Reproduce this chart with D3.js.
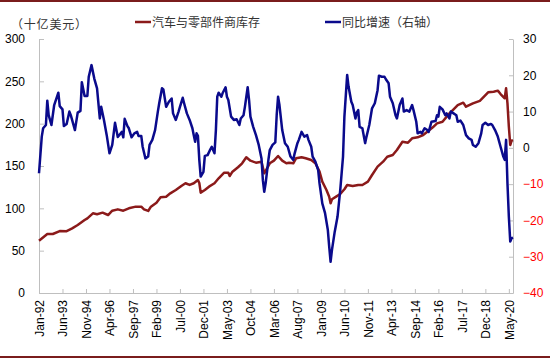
<!DOCTYPE html>
<html><head><meta charset="utf-8">
<script src="https://cdn.jsdelivr.net/npm/d3@7"></script>
<style>
html,body{margin:0;padding:0;background:#fff;}
svg{display:block;}
text{text-spacing-trim: space-all;}
</style></head>
<body>
<script>
// x-axis tick labels (every 17 months starting Jan-92)
const tickLabels = ["Jan-92","Jun-93","Nov-94","Apr-96","Sep-97","Feb-99","Jul-00","Dec-01","May-03","Oct-04","Mar-06","Aug-07","Jan-09","Jun-10","Nov-11","Apr-13","Sep-14","Feb-16","Jul-17","Dec-18","May-20"];
// months since Jan-1992
const redIdx = [0,6,10,15,20,24,28,33,35,39,42,46,50,53,57,61,65,70,74,76,79,81,85,88,92,95,99,103,106,109,112,115,116,117,120,123,127,130,134,137,138,140,144,147,150,153,157,161,163,165,167,170,173,176,179,181,184,186,190,193,197,200,203,205,208,210,211,212,215,218,221,223,227,231,234,238,241,245,249,252,256,259,263,267,270,274,278,281,285,288,292,297,300,303,307,309,314,319,322,325,329,332,334,337,338,339,340,341,342,343];
// 汽车与零部件商库存 (十亿美元)
const redVal = [61.8,69.7,69.7,73.2,73,76.4,80.3,86.2,88.2,94.1,93,94.9,92.1,97.2,98.8,97.2,100,102,102,98.8,96.9,102,106.7,113,113.8,117.7,121.7,126.4,129.6,127.6,129.6,133.5,130,118.5,121.7,125.6,129.6,135.5,142.1,142,138.2,143.3,148.5,153.2,160.3,156.3,153.9,155.1,141.4,147.3,153.2,156.3,161.8,156.3,153.2,153.9,153.2,159.1,160.3,159.1,157.1,153.2,143.3,131.5,121.7,113.8,105.9,110.7,113.8,117,122.5,127.6,126.4,127.6,127.6,131.5,139.4,149.2,155.1,161,163,168.9,178.7,177.5,182.7,183.9,186.6,190.5,195.7,200.4,202.3,212.2,217,222,224.8,220,224,227,231.9,237,237.8,239,235,230,241.8,224,196.4,174.8,179.9,180.7];
// months since Jan-1992
const blueIdx = [0,2,3,5,6,7,9,11,14,15,17,18,20,22,23,26,28,30,31,33,35,36,38,40,42,44,45,47,49,51,53,55,57,60,61,62,64,65,67,69,71,72,74,75,77,79,80,82,84,86,87,89,90,92,94,96,97,99,101,102,104,105,107,109,111,112,113,114,115,116,117,119,120,122,124,125,127,128,129,130,132,133,135,136,137,139,141,143,145,146,148,149,151,152,153,155,157,159,161,162,163,164,166,167,169,171,172,173,174,176,178,180,182,184,185,187,188,190,192,194,195,197,198,200,202,203,205,207,209,210,211,212,214,216,218,220,221,223,224,226,227,229,230,231,232,234,236,237,239,241,243,245,246,248,250,251,253,254,256,258,259,261,263,264,266,268,270,271,273,274,276,277,279,281,282,284,287,288,289,290,292,294,295,297,298,300,302,303,305,307,309,311,313,314,316,318,320,321,323,325,327,328,330,332,334,336,337,338,339,340,341,342,343];
// 同比增速 (%), right axis
const blueVal = [-7.0,3.1,5.4,6.3,13.0,9.0,6.3,11.8,15.2,11.5,10.6,6.0,6.6,10.0,9.0,4.9,9.7,10.2,18.1,14.3,14.3,19.6,22.8,19.1,16.4,8.1,11.3,7.7,3.5,-1.5,0.8,6.9,3.0,4.4,2.9,8.0,6.0,5.4,2.9,4.0,4.4,3.3,3.3,0.3,-2.9,-2.4,0.8,2.2,4.9,10.0,12.3,16.4,16.1,11.3,12.7,13.6,9.5,7.7,10.0,11.3,13.8,12.3,9.5,7.7,5.4,3.5,1.7,4.0,3.3,-3.3,-7.9,-6.6,-2.2,-2.0,-0.4,0.3,-1.5,4.9,14.1,15.2,14.1,15.2,16.7,14.1,13.2,8.6,7.7,7.9,6.3,8.1,9.0,11.3,16.7,13.2,8.6,5.8,3.5,0.8,-2.9,-8.9,-12.1,-9.8,-3.3,-0.6,0.8,1.5,9.0,14.1,11.8,4.9,1.3,0.3,-2.4,-3.3,-1.5,1.3,2.2,4.4,3.1,3.5,2.2,0.3,-2.4,-3.8,-6.1,-9.8,-15.3,-18.0,-22.6,-27.2,-31.4,-28.1,-23.1,-19.0,-11.6,-2.4,8.6,20.1,16.9,12.7,11.8,8.1,9.8,10.4,5.8,5.4,1.3,3.1,6.3,10.9,12.3,15.9,19.9,19.6,19.6,18.9,17.8,14.1,12.3,9.0,8.1,11.8,13.6,10.0,10.4,10.0,11.8,10.4,7.2,4.0,4.4,4.0,5.4,4.9,4.4,7.2,7.4,9.0,8.6,11.3,10.6,9.0,9.5,8.1,10.0,9.5,9.0,7.2,7.5,6.3,3.5,2.6,2.2,0.8,0.3,1.3,4.0,6.3,6.9,6.3,6.6,6.3,4.9,3.1,0.3,-2.4,-3.3,2.2,-9.8,-19.0,-25.8,-24.9,-24.7];
const leftTicks = [0,50,100,150,200,250,300];
const rightTicks = [-40,-30,-20,-10,0,10,20,30];
const seriesNames = ["汽车与零部件商库存","同比增速（右轴）"];
const unitLabel = "（十亿美元）";

const W = 550, H = 358;
const RED = "#8B1A1A", BLUE = "#0A0A8C", AXIS = "#BFBFBF";
const svg = d3.select("body").append("svg").attr("width", W).attr("height", H);

const x = d3.scaleLinear().domain([0, 343]).range([39, 513]);
const yL = d3.scaleLinear().domain([0, 300]).range([293, 39]);
const yR = d3.scaleLinear().domain([-40, 30]).range([293, 39]);

// frame lines
svg.append("line").attr("x1",0).attr("x2",W).attr("y1",1).attr("y2",1).attr("stroke","#7A1C1C").attr("stroke-width",2);
svg.append("line").attr("x1",0).attr("x2",W).attr("y1",357).attr("y2",357).attr("stroke","#7A1C1C").attr("stroke-width",2);

const fontAxis = "'Liberation Sans', Arial, sans-serif";
const fontCJK = "'Noto Sans CJK SC', sans-serif";

// left axis
const gL = svg.append("g").attr("transform","translate(39,0)")
  .call(d3.axisLeft(yL).tickValues(leftTicks).tickSizeInner(-5).tickSizeOuter(0).tickPadding(14));
// right axis
const gR = svg.append("g").attr("transform","translate(513,0)")
  .call(d3.axisRight(yR).tickValues(rightTicks).tickSizeInner(-4).tickSizeOuter(0).tickPadding(10));
// bottom axis
const xTickVals = tickLabels.map((d,i)=>i*17);
const gB = svg.append("g").attr("transform","translate(0,293)")
  .call(d3.axisBottom(x).tickValues(xTickVals).tickFormat((d,i)=>tickLabels[i]).tickSizeInner(-4).tickSizeOuter(0));
gB.selectAll("text").attr("transform","rotate(-90)").attr("x",-7).attr("y",0).attr("dy","0.35em").attr("text-anchor","end");

[gL,gR,gB].forEach(g=>{
  g.select(".domain").attr("stroke",AXIS);
  g.selectAll(".tick line").attr("stroke",AXIS);
  g.selectAll("text").attr("font-family",fontAxis).attr("font-size",12).attr("fill","#000");
});
gR.selectAll(".tick text").attr("fill", d => d < 0 ? "#FF0000" : "#000");

// lines
const redData = redIdx.map((m,i)=>({m, v: redVal[i]}));
const blueData = blueIdx.map((m,i)=>({m, v: blueVal[i]}));
svg.append("path").datum(redData)
  .attr("d", d3.line().x(d=>x(d.m)).y(d=>yL(d.v)))
  .attr("fill","none").attr("stroke",RED).attr("stroke-width",2.5).attr("stroke-linejoin","round");
svg.append("path").datum(blueData)
  .attr("d", d3.line().x(d=>x(d.m)).y(d=>yR(d.v)))
  .attr("fill","none").attr("stroke",BLUE).attr("stroke-width",2.5).attr("stroke-linejoin","round");

// unit label
svg.append("text").attr("x",11).attr("y",29).text(unitLabel)
  .attr("font-family",fontCJK).attr("font-size",12).attr("fill","#333")
  .attr("letter-spacing", 0.8);

// legend
const legend = [{x:135, c:RED, t:seriesNames[0]},{x:325, c:BLUE, t:seriesNames[1]}];
legend.forEach(l=>{
  svg.append("line").attr("x1",l.x).attr("x2",l.x+16).attr("y1",22).attr("y2",22).attr("stroke",l.c).attr("stroke-width",2.5);
  svg.append("text").attr("x",l.x+17).attr("y",26.5).text(l.t)
    .attr("font-family",fontCJK).attr("font-size",12).attr("fill","#333");
});
</script>
</body></html>
